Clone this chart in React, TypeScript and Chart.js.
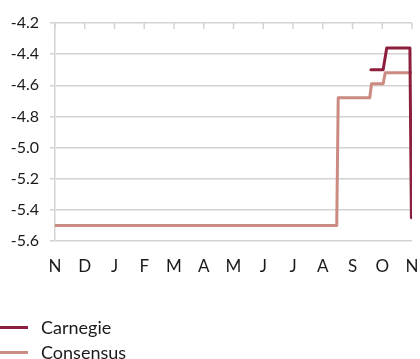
import React, { useEffect, useRef } from "react";
import { Chart, registerables } from "chart.js";

Chart.register(...registerables);

// Month initials along the bottom axis, Nov through Nov
const monthLabels = ["N", "D", "J", "F", "M", "A", "M", "J", "J", "A", "S", "O", "N"];

// Estimate paths: x in months since the first November, y in %
const consensusX = [0, 9.47, 9.52, 10.58, 10.64, 11.03, 11.1, 12];
const consensusY = [-5.5, -5.5, -4.68, -4.68, -4.59, -4.59, -4.52, -4.52];

const carnegieX = [10.62, 11.03, 11.15, 11.93, 11.98];
const carnegieY = [-4.5, -4.5, -4.36, -4.36, -5.45];

const yTicks = [-5.6, -5.4, -5.2, -5.0, -4.8, -4.6, -4.4, -4.2];

const CARNEGIE = "#8c1f3b";
const CONSENSUS = "#cc8b80";
const GRID = "#d3d3d3";
const FONT = "Lato";

const zip = (xs: number[], ys: number[]) => xs.map((x, i) => ({ x, y: ys[i] }));

// Small tick marks hanging from the top gridline at every month
const topTicks = {
  id: "topTicks",
  beforeDatasetsDraw(chart: any) {
    const { ctx, chartArea, scales } = chart;
    const xs = scales.x;
    ctx.save();
    ctx.strokeStyle = GRID;
    ctx.lineWidth = 1.5;
    xs.ticks.forEach((t: any) => {
      const px = xs.getPixelForValue(t.value);
      ctx.beginPath();
      ctx.moveTo(px, chartArea.top);
      ctx.lineTo(px, chartArea.top + 6);
      ctx.stroke();
    });
    ctx.restore();
  },
};

export default function App() {
  const canvasRef = useRef<HTMLCanvasElement | null>(null);

  useEffect(() => {
    if (!canvasRef.current) return;
    const chart = new Chart(canvasRef.current, {
      type: "line",
      data: {
        datasets: [
          {
            label: "Carnegie",
            data: zip(carnegieX, carnegieY),
            borderColor: CARNEGIE,
            borderWidth: 3,
            pointRadius: 0,
            tension: 0,
            borderJoinStyle: "round",
            borderCapStyle: "round",
          },
          {
            label: "Consensus",
            data: zip(consensusX, consensusY),
            borderColor: CONSENSUS,
            borderWidth: 3,
            pointRadius: 0,
            tension: 0,
            borderJoinStyle: "round",
            borderCapStyle: "butt",
          },
        ],
      },
      options: {
        animation: false,
        responsive: false,
        maintainAspectRatio: false,
        layout: { padding: { top: 23, right: 8, left: 0, bottom: 0 } },
        plugins: { legend: { display: false }, tooltip: { enabled: false } },
        scales: {
          x: {
            type: "linear",
            min: 0,
            max: monthLabels.length - 1,
            grid: { display: false, drawTicks: false },
            border: { display: false },
            afterBuildTicks: (axis: any) => {
              axis.ticks = monthLabels.map((_, i) => ({ value: i }));
            },
            afterFit: (axis: any) => {
              axis.height = 118;
              axis.paddingLeft = 0;
              axis.paddingRight = 0;
            },
            ticks: {
              autoSkip: false,
              maxRotation: 0,
              padding: 15,
              color: "#1a1a1a",
              font: { family: FONT, size: 17 },
              callback: (v: any) => monthLabels[Math.round(Number(v))] ?? "",
            },
          },
          y: {
            min: -5.6,
            max: -4.2,
            afterBuildTicks: (axis: any) => {
              axis.ticks = yTicks.map((v) => ({ value: v }));
            },
            afterFit: (axis: any) => {
              axis.width = 55;
              axis.paddingTop = 0;
              axis.paddingBottom = 0;
            },
            grid: { color: GRID, lineWidth: 1.5, tickLength: 5 },
            border: { display: true, color: GRID, width: 1.5 },
            ticks: {
              padding: 11,
              color: "#1a1a1a",
              font: { family: FONT, size: 16 },
              callback: (v: any) => Number(v).toFixed(1),
            },
          },
        },
      },
      plugins: [topTicks],
    });
    return () => chart.destroy();
  }, []);

  const legendRow = (color: string, text: string, top: number) => (
    <div
      style={{
        position: "absolute",
        left: 0,
        top,
        height: 24,
        display: "flex",
        alignItems: "center",
        fontFamily: FONT,
        fontSize: 18,
        color: "#1a1a1a",
      }}
    >
      <span style={{ display: "inline-block", width: 28, height: 3, background: color, marginRight: 13 }} />
      <span>{text}</span>
    </div>
  );

  return (
    <div style={{ position: "fixed", left: 0, top: 0, width: 420, height: 359, background: "#fff" }}>
      <canvas ref={canvasRef} width={420} height={359} style={{ display: "block" }} />
      {legendRow(CARNEGIE, "Carnegie", 315)}
      {legendRow(CONSENSUS, "Consensus", 340)}
    </div>
  );
}
